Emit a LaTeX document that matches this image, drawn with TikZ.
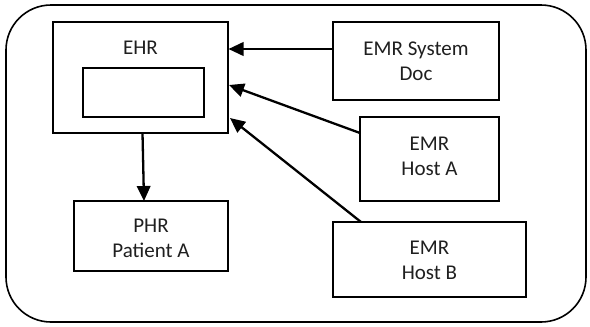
\documentclass[tikz,border=0pt]{standalone}
\usepackage{fontspec}
\setmainfont{Carlito}
\usetikzlibrary{arrows.meta}
\begin{document}
\begin{tikzpicture}[x=1pt,y=-1pt,
  boxline/.style={draw=black,line width=1.6pt},
  lbl/.style={font=\fontsize{21}{25.3}\selectfont,align=center,text=black!88,inner sep=0pt},
  conn/.style={line width=2.3pt,-{Triangle[length=15pt,width=13.5pt]}}]
\useasboundingbox (0,0) rectangle (590,327);
\draw[boxline,rounded corners=45pt] (6,5) rectangle (586,322);
% boxes
\draw[boxline] (53,22) rectangle (228,133);
\draw[boxline] (83,68) rectangle (204,117);
\draw[boxline] (333,22) rectangle (499,100);
\draw[boxline] (360,117) rectangle (499,201);
\draw[boxline] (333,222) rectangle (526,297);
\draw[boxline] (74,201) rectangle (228,271);
% labels
\node[lbl] (ehr) at (140.5,47.5) {EHR};
\node[lbl] (doc) at (416,61) {EMR System\\Doc};
\node[lbl] (hosta) at (429.5,156.5) {EMR\\Host A};
\node[lbl] (hostb) at (429.5,260.5) {EMR\\Host B};
\node[lbl] (phr) at (151,238) {PHR\\Patient A};
% connector anchors
\coordinate (docL) at (333,49);
\coordinate (ehrR1) at (228.5,49);
\coordinate (haC) at (360,133);
\coordinate (ehrR2) at (229,85);
\coordinate (hbT) at (361,222);
\coordinate (ehrR3) at (230,118);
\coordinate (ehrB) at (142.5,133);
\coordinate (phrT) at (144,201);
\draw[conn] (docL) -- (ehrR1);
\draw[conn] (haC) -- (ehrR2);
\draw[conn] (hbT) -- (ehrR3);
\draw[conn] (ehrB) -- (phrT);
\end{tikzpicture}
\end{document}
